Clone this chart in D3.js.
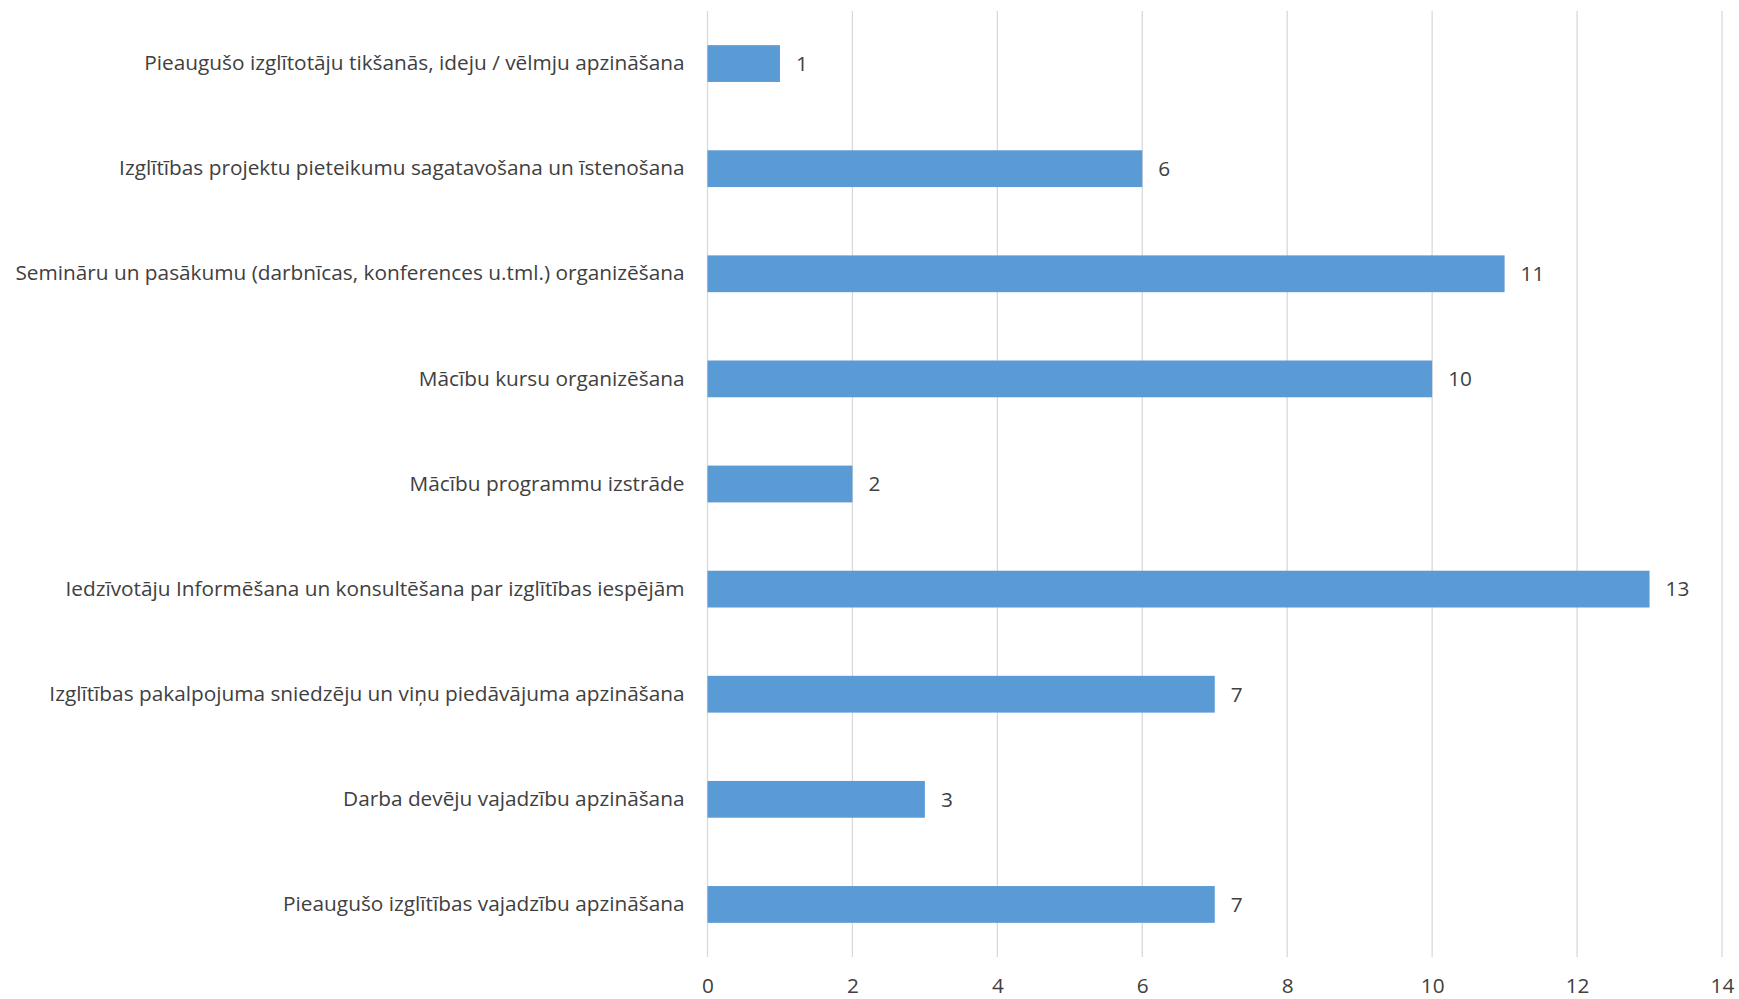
<!DOCTYPE html>
<html>
<head>
<meta charset="utf-8">
<script src="https://cdn.jsdelivr.net/npm/d3@7"></script>
<style>
  body { margin: 0; background: #fff; overflow: hidden; }
  text { font-family: "Open Sans", sans-serif; fill: #404040; }
</style>
</head>
<body>
<div id="chart-area"></div>
<script>
// categories top to bottom, as in the chart
const categories = [
  "Pieaugušo izglītotāju tikšanās, ideju / vēlmju apzināšana",
  "Izglītības projektu pieteikumu sagatavošana un īstenošana",
  "Semināru un pasākumu (darbnīcas, konferences u.tml.) organizēšana",
  "Mācību kursu organizēšana",
  "Mācību programmu izstrāde",
  "Iedzīvotāju Informēšana un konsultēšana par izglītības iespējām",
  "Izglītības pakalpojuma sniedzēju un viņu piedāvājuma apzināšana",
  "Darba devēju vajadzību apzināšana",
  "Pieaugušo izglītības vajadzību apzināšana"
];
const values = [1, 6, 11, 10, 2, 13, 7, 3, 7];
const xTicks = [0, 2, 4, 6, 8, 10, 12, 14];

const width = 1739, height = 999;
const margin = { top: 11, right: 17, bottom: 42, left: 707.5 };

const svg = d3
  .select("#chart-area")
  .append("svg")
  .attr("width", width)
  .attr("height", height);

const x = d3.scaleLinear()
  .domain([0, 14])
  .range([margin.left, width - margin.right]);

const y = d3.scaleBand()
  .domain(categories)
  .range([margin.top, height - margin.bottom])
  .paddingInner(0.65)
  .paddingOuter(0.325);

// gridlines
svg.append("g")
  .selectAll("line")
  .data(xTicks)
  .enter()
  .append("line")
  .attr("x1", d => x(d))
  .attr("x2", d => x(d))
  .attr("y1", margin.top)
  .attr("y2", height - margin.bottom)
  .attr("stroke", "#d9d9d9")
  .attr("stroke-width", 1.3);

// bars
svg.append("g")
  .selectAll("rect")
  .data(values)
  .enter()
  .append("rect")
  .attr("x", x(0))
  .attr("y", (d, i) => y(categories[i]))
  .attr("width", d => x(d) - x(0))
  .attr("height", y.bandwidth())
  .attr("fill", "#5b9bd5");

// value labels
svg.append("g")
  .selectAll("text")
  .data(values)
  .enter()
  .append("text")
  .attr("x", d => x(d) + 16)
  .attr("y", (d, i) => y(categories[i]) + y.bandwidth() / 2)
  .attr("dy", "0.35em")
  .attr("font-size", 20.8)
  .text(d => d);

// category labels
const yAxis = svg.append("g")
  .attr("transform", `translate(${x(0)},0)`)
  .call(d3.axisLeft(y).tickSize(0).tickPadding(23));
yAxis.select(".domain").remove();

// x axis labels
const xAxis = svg.append("g")
  .attr("transform", `translate(0,${height - margin.bottom})`)
  .call(d3.axisBottom(x).tickValues(xTicks).tickSize(0).tickPadding(21));
xAxis.select(".domain").remove();

svg.selectAll(".tick text")
  .attr("font-size", 20.8)
  .attr("fill", null);
svg.selectAll("g").attr("font-family", null).attr("font-size", null);
</script>
</body>
</html>
